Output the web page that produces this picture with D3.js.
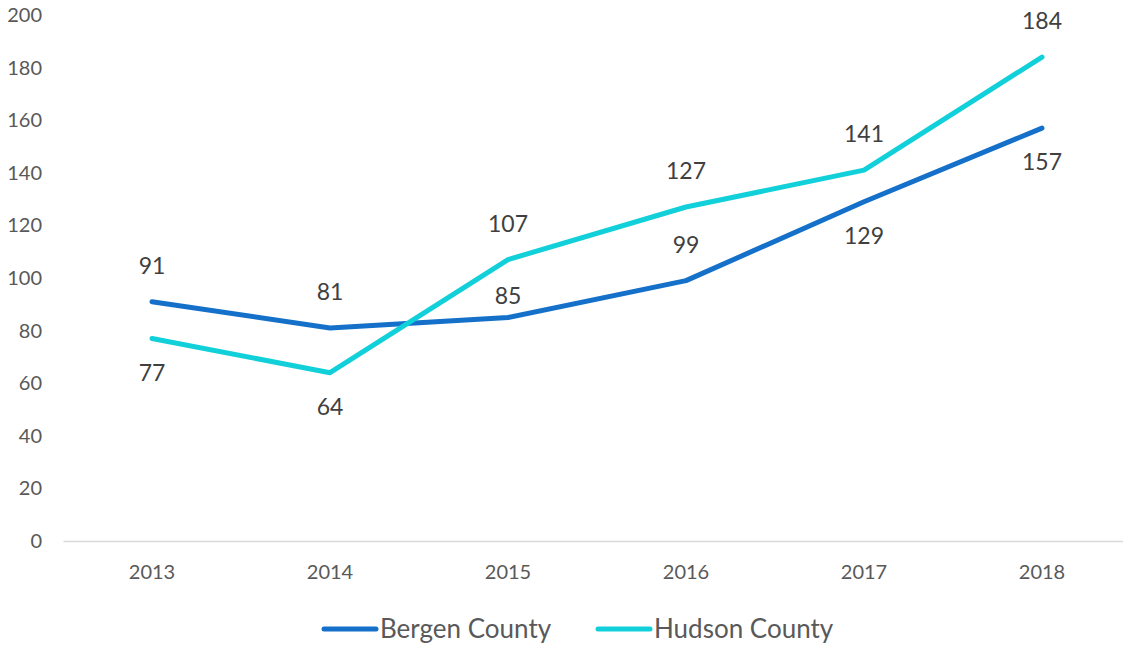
<!DOCTYPE html>
<html>
<head>
<meta charset="utf-8">
<script src="https://cdn.jsdelivr.net/npm/d3@7"></script>
<style>
  html, body { margin: 0; padding: 0; background: #fff; }
  svg { display: block; font-family: "Lato", "Open Sans", sans-serif; }
</style>
</head>
<body>
<svg id="chart" width="1123" height="646"></svg>
<script>
// Annual counts per county
const years = ["2013", "2014", "2015", "2016", "2017", "2018"];
const bergen = [91, 81, 85, 99, 129, 157];
const hudson = [77, 64, 107, 127, 141, 184];
const yTicks = [0, 20, 40, 60, 80, 100, 120, 140, 160, 180, 200];
const seriesNames = ["Bergen County", "Hudson County"];

// Which side of the point each value label sits on
const bergenLabelSide = ["above", "above", "above", "above", "below", "below"];
const hudsonLabelSide = ["below", "below", "above", "above", "above", "above"];

const colors = ["#1470c9", "#11d0d9"];

const svg = d3.select("#chart");

const x = d3.scaleBand().domain(years).range([63, 1131]).paddingInner(0).paddingOuter(0);
const y = d3.scaleLinear().domain([0, 200]).range([541, 15]);
const cx = d => x(d) + x.bandwidth() / 2;

// Y axis labels (no axis line, no ticks)
const yAxis = svg.append("g")
  .attr("transform", "translate(42,0)")
  .call(d3.axisLeft(y).tickValues(yTicks).tickSize(0).tickPadding(0));
yAxis.select(".domain").remove();
yAxis.selectAll("text")
  .attr("fill", "#595959")
  .style("font-size", "20px")
  .style("font-family", "Lato, 'Open Sans', sans-serif");

// X axis baseline with year labels
const xAxis = svg.append("g")
  .attr("transform", "translate(0," + y(0) + ")")
  .call(d3.axisBottom(x).tickSize(0).tickPadding(24));
xAxis.select(".domain").attr("stroke", "#d9d9d9").attr("stroke-width", 1.5);
xAxis.selectAll("text")
  .attr("fill", "#595959")
  .attr("dy", "0.32em")
  .style("font-size", "20px")
  .style("font-family", "Lato, 'Open Sans', sans-serif");
xAxis.selectAll(".tick text").attr("y", 32);

const line = d3.line()
  .x((d, i) => cx(years[i]))
  .y(d => y(d));

const series = [
  { name: seriesNames[0], values: bergen, sides: bergenLabelSide, color: colors[0] },
  { name: seriesNames[1], values: hudson, sides: hudsonLabelSide, color: colors[1] }
];

series.forEach(s => {
  svg.append("path")
    .datum(s.values)
    .attr("fill", "none")
    .attr("stroke", s.color)
    .attr("stroke-width", 5)
    .attr("stroke-linejoin", "round")
    .attr("stroke-linecap", "round")
    .attr("d", line);
});

// Value labels
series.forEach(s => {
  svg.append("g").selectAll("text")
    .data(s.values)
    .join("text")
    .attr("x", (d, i) => cx(years[i]))
    .attr("y", (d, i) => {
      let off = s.sides[i] === "above" ? -36 : 34;
      // the 2015 Bergen label is pulled closer to keep clear of the Hudson line
      if (s.name === "Bergen County" && years[i] === "2015") off = -22;
      return y(d) + off;
    })
    .attr("dy", "0.35em")
    .attr("text-anchor", "middle")
    .attr("fill", "#404040")
    .style("font-size", "23px")
    .text(d => d);
});

// Legend
const legendItems = [
  { name: seriesNames[0], color: colors[0], x0: 322 },
  { name: seriesNames[1], color: colors[1], x0: 596 }
];
const lg = svg.append("g");
legendItems.forEach(it => {
  lg.append("line")
    .attr("x1", it.x0 + 2).attr("x2", it.x0 + 54)
    .attr("y1", 629).attr("y2", 629)
    .attr("stroke", it.color)
    .attr("stroke-width", 5)
    .attr("stroke-linecap", "round");
  lg.append("text")
    .attr("x", it.x0 + 58)
    .attr("y", 629)
    .attr("dy", "0.35em")
    .attr("fill", "#595959")
    .style("font-size", "26px")
    .text(it.name);
});
</script>
</body>
</html>
